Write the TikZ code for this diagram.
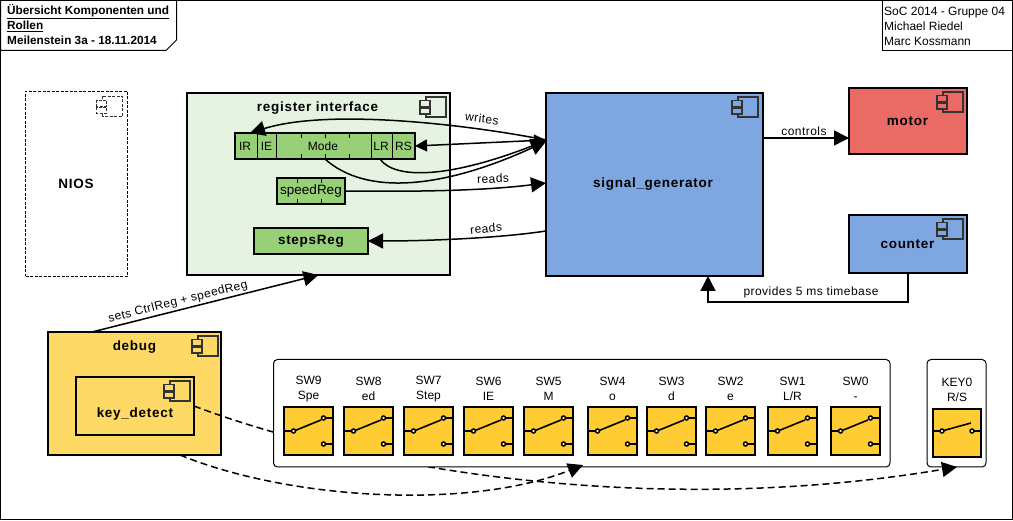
\documentclass[tikz,border=0pt]{standalone}
\usepackage{fontspec}
\setmainfont{Liberation Sans}
\newfontface\ttlface{Liberation Sans Bold}[LetterSpace=5.5]
\newfontface\lblface{Liberation Sans}[LetterSpace=3.8]
\usetikzlibrary{arrows.meta,calc}
\definecolor{regbg}{HTML}{E7F3E2}
\definecolor{grn}{HTML}{97D077}
\definecolor{blu}{HTML}{7EA6E0}
\definecolor{rd}{HTML}{EA6B66}
\definecolor{ylw}{HTML}{FFD966}
\definecolor{swy}{HTML}{FFCC33}
\definecolor{icn}{HTML}{333333}
\tikzset{
 x=1pt,y=-1pt,
 box/.style={draw=black,line width=2pt,anchor=north west,outer sep=0pt,inner sep=0pt},
 panel/.style={draw=black,line width=1pt,fill=white,rounded corners=4pt},
 ttl/.style={font=\fontsize{13.5}{16}\selectfont\ttlface,inner sep=0pt},
 lbl/.style={font=\fontsize{12}{14}\selectfont\lblface,inner sep=0pt,text=black},
 cell/.style={font=\fontsize{12}{14}\selectfont,inner sep=0pt},
 conn/.style={draw=black,line width=1.5pt},
 tip/.style={-{Triangle[length=15pt,width=15pt]}},
 both/.style={{Triangle[length=12pt,width=12pt]}-{Triangle[length=12pt,width=12pt]}},
 dsh/.style={conn,dash pattern=on 7pt off 4pt},
 swlbl/.style={font=\fontsize{12}{15}\selectfont,inner sep=0pt,align=center},
}
\newcommand{\compicon}[4][]{%
 \draw[icn,line width=1.6pt,#1] (#2,#3) rectangle ++(20,20);
 \draw[icn,line width=1.6pt,fill=#4,#1] (#2-6,#3+3.5) rectangle ++(10,6);
 \draw[icn,line width=1.6pt,fill=#4,#1] (#2-6,#3+11) rectangle ++(10,6);
}
\newcommand{\swdraw}[3]{%
 \node[box,fill=swy,minimum width=49pt,minimum height=48.5pt] (#3) at (#1+1,#2+1) {};
 \draw[line width=1.6pt] (#1,#2+25)--(#1+11,#2+25);
 \draw[line width=1.6pt] (#1+11,#2+25)--(#1+38,#2+14);
 \draw[line width=1.6pt] (#1+41,#2+12)--(#1+50,#2+12);
 \draw[line width=1.6pt] (#1+41,#2+38)--(#1+50,#2+38);
 \draw[line width=1.5pt,fill=white] (#1+10.5,#2+25) circle (2pt);
 \draw[line width=1.5pt,fill=white] (#1+40.5,#2+12) circle (2pt);
 \draw[line width=1.5pt,fill=white] (#1+40.5,#2+38) circle (2pt);
}
\begin{document}
\begin{tikzpicture}
\useasboundingbox (0,0) rectangle (1013,521);
\fill[white] (0,0) rectangle (1013,521);
\draw[line width=1pt] (0.5,0.5) rectangle (1012.5,519.5);

% title notes
\draw[line width=1pt,fill=white] (0.5,0.5) -- (176.5,0.5) -- (176.5,40) -- (166,50.5) -- (0.5,50.5) -- cycle;
\node[anchor=north west,inner sep=0pt,font=\bfseries\fontsize{11.8}{15}\selectfont,align=left] (title) at (7,4.5)
 {\underline{Übersicht Komponenten und}\\\underline{Rollen}\\Meilenstein 3a - 18.11.2014};
\draw[line width=1pt,fill=white] (882.5,0.5) rectangle (1012.5,50.5);
\node[anchor=north west,inner sep=0pt,font=\fontsize{12}{15}\selectfont,align=left] (authors) at (884,6.5)
 {SoC 2014 - Gruppe 04\\Michael Riedel\\Marc Kossmann};

% NIOS
\node[box,draw=black,line width=1pt,dash pattern=on 3pt off 1.5pt,fill=white,minimum width=102pt,minimum height=185pt] (nios) at (25.5,91.5) {};
\compicon[line width=0.8pt,dash pattern=on 3pt off 1.5pt]{102.5}{96.5}{white}
\node[ttl] (niost) at (76,184) {NIOS};

% register interface
\node[box,fill=regbg,minimum width=263pt,minimum height=182pt] (reg) at (187,93) {};
\compicon{426}{97}{regbg}
\node[ttl] (regt) at (317.5,108) {register interface};

% CtrlReg cells
\node[box,fill=grn,minimum width=180pt,minimum height=26pt] (ctrl) at (235,133) {};
\foreach \xx in {257,276,371,392} \draw[line width=1pt] (\xx,133)--(\xx,159);
\foreach \xx in {301,325,349} {\draw[line width=1pt] (\xx,133)--(\xx,138); \draw[line width=1pt] (\xx,154)--(\xx,159);}
\node[cell] (cir) at (245,146) {IR};
\node[cell] (cie) at (266.5,146) {IE};
\node[cell] (cmo) at (323,146) {Mode};
\node[cell] (clr) at (381,146) {LR};
\node[cell] (crs) at (403.5,146) {RS};

% speedReg
\node[box,fill=grn,minimum width=68pt,minimum height=26pt] (speed) at (277,178) {};
\foreach \xx in {297,321} {\draw[line width=1pt] (\xx,178)--(\xx,183); \draw[line width=1pt] (\xx,199)--(\xx,204);}
\node[font=\fontsize{13.5}{15}\selectfont,inner sep=0pt] (speedt) at (311,191.5) {speedReg};

% stepsReg
\node[box,fill=grn,minimum width=114pt,minimum height=26pt,font=\fontsize{13.5}{16}\selectfont\ttlface] (steps) at (254,228) {stepsReg};

% signal generator
\node[box,fill=blu,minimum width=217pt,minimum height=183pt] (sig) at (546,93) {};
\compicon{738}{97}{blu}
\node[ttl] (sigt) at (653,184) {signal\_generator};

% motor, counter
\node[box,fill=rd,minimum width=118pt,minimum height=66pt] (motor) at (849,88) {};
\compicon{943}{92}{rd}
\node[ttl] (motort) at (907.5,121) {motor};
\node[box,fill=blu,minimum width=118pt,minimum height=58pt] (counter) at (849,215) {};
\compicon{943}{219}{blu}
\node[ttl] (countert) at (907.5,244) {counter};

% debug
\node[box,fill=ylw,minimum width=173pt,minimum height=123pt] (debug) at (48,332) {};
\compicon{198}{336}{ylw}
\node[ttl] (debugt) at (134.5,347) {debug};
\node[box,fill=ylw,minimum width=118pt,minimum height=58pt] (keyd) at (76,377) {};
\compicon{170}{381}{ylw}
\node[ttl] (keydt) at (135,414) {key\_detect};

% key panel, then dashed line that passes behind the switch panel
\draw[panel] (927,359.5) rectangle (986,467);
\coordinate (keytip) at (957,467);
\draw[dsh,tip] (keyd.east) .. controls (350,465) and (640,520) .. (keytip);

% switch panel
\draw[panel] (273.5,359.5) rectangle (890,467);
\coordinate (swtip) at (583,465);
\foreach \xx/\nm/\aa/\bb in {283/s9/SW9/Spe,343/s8/SW8/ed,403/s7/SW7/Step,463/s6/SW6/IE,523/s5/SW5/M,587/s4/SW4/o,646/s3/SW3/d,705/s2/SW2/e,767/s1/SW1/L\slash R,830/s0/SW0/-}{
 \swdraw{\xx}{406}{\nm}
 \node[swlbl] (\nm t) at (\xx+25.5,389) {\aa\\\bb};
}
% key
\node[box,fill=swy,minimum width=48pt,minimum height=48pt] (k0) at (933,409) {};
\draw[line width=1.6pt] (933,431)--(942,431);
\draw[line width=1.6pt] (942,431)--(971,423);
\draw[line width=1.6pt] (972,431)--(981,431);
\draw[line width=1.5pt,fill=white] (942,431) circle (2pt);
\draw[line width=1.5pt,fill=white] (972,431) circle (2pt);
\node[swlbl] (k0t) at (957,390) {KEY0\\R/S};

% dashed line to the switches
\draw[dsh,tip] ([xshift=45.5pt]debug.south) .. controls (290,500) and (470,510) .. (swtip);

% connectors
\draw[conn,tip] ([yshift=44.5pt]sig.west) .. controls (470,125) and (330,108) .. ([xshift=15pt]ctrl.north west);
\draw[conn,both] (crs.east -| ctrl.east) -- ([yshift=44.5pt]sig.west);
\draw[conn,tip] ([xshift=55pt]ctrl.south) .. controls (395,180) and (450,178) .. ([yshift=44pt]sig.west);
\draw[conn,tip] (ctrl.south) .. controls (365,195) and (440,190) .. ([yshift=43pt]sig.west);
\draw[conn,tip] (speed.east) .. controls (430,192) and (490,190) .. ([yshift=1.5pt]sig.west);
\draw[conn,tip] ([yshift=-46.5pt]sig.west) .. controls (500,238) and (430,241) .. (steps.east);
\draw[conn,tip] ([yshift=46.5pt]sig.east) -- ([yshift=-17pt]motor.west);
\draw[conn,tip] (counter.south) |- (708,302) -- ([xshift=53.5pt]sig.south);
\draw[conn,tip] ([xshift=-42.5pt]debug.north) -- (reg.south);

% connector labels
\node[lbl,rotate=-7] (lw) at (482,118.5) {writes};
\node[lbl,rotate=3] (lr1) at (493,178.5) {reads};
\node[lbl,rotate=6] (lr2) at (486,228.5) {reads};
\node[lbl] (lc) at (804,131) {controls};
\node[lbl] (lp) at (811,292) {provides 5 ms timebase};
\node[lbl,rotate=14] (ls) at (178,302) {sets CtrlReg + speedReg};
\end{tikzpicture}
\end{document}
